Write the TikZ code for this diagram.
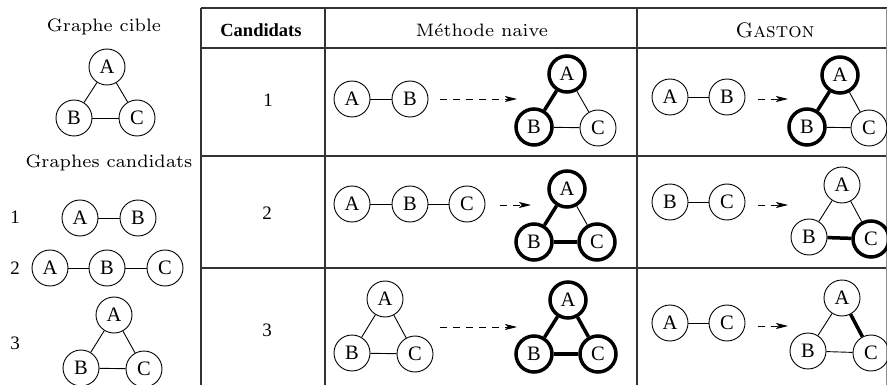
\documentclass[tikz,border=0pt]{standalone}
\usepackage{fontspec}
\setmainfont{Liberation Serif}
\usetikzlibrary{arrows.meta}
% Computer Modern faces for the captions and column titles
\font\lblfont=cmr7 at 18pt
\font\lblsc=cmcsc10 at 21pt
\tikzset{
  vtx/.style={circle, draw, line width=0.9pt, minimum size=36pt, inner sep=0pt,
              font=\fontsize{20.5}{22}\selectfont},
  hot/.style={line width=3.5pt},
  edge/.style={line width=0.9pt},
  hotedge/.style={line width=3.5pt},
  grid/.style={line width=1.3pt, draw=black!80},
  flow/.style={line width=0.9pt, dash pattern=on 7pt off 6pt,
               -{Stealth[length=12pt, width=6pt, inset=3pt]}},
  caption/.style={font=\lblfont, inner sep=0pt},
  num/.style={font=\fontsize{19}{21}\selectfont, inner sep=0pt},
}
\begin{document}
\begin{tikzpicture}[x=1pt, y=-1pt]
\useasboundingbox (0,0) rectangle (887,385);

% ---------- table frame ----------
\draw[grid] (201,8) -- (887,8);
\draw[grid] (201,48) -- (887,48);
\draw[grid] (201,156) -- (887,156);
\draw[grid] (201,268) -- (887,268);
\draw[grid] (201,8) -- (201,385);
\draw[grid] (325,8) -- (325,385);
\draw[grid] (637,8) -- (637,385);
\draw[grid, line width=0.8pt, draw=black!45] (886.6,8) -- (886.6,385);

% ---------- headers ----------
\node[font=\bfseries\fontsize{18.5}{20}\selectfont, inner sep=0pt] (hCand) at (261,30) {Candidats};
\node[caption] (hNaive) at (482,30) {M\accent19 ethode naive};
\node[font=\lblsc, inner sep=0pt] (hGaston) at (775,30) {Gaston};

% ---------- left column: target graph ----------
\node[caption] (tTitle) at (104,27) {Graphe cible};
\node[vtx] (tA) at (107,67) {A};
\node[vtx] (tB) at (74,118) {B};
\node[vtx] (tC) at (137,118) {C};
\draw[edge] (tA) -- (tB);
\draw[edge] (tA) -- (tC);
\draw[edge] (tB) -- (tC);

% ---------- left column: candidate graphs ----------
\node[caption] (cTitle) at (109,163) {Graphes candidats};

\node[num] (l1) at (15,217) {1};
\node[vtx] (c1A) at (80,218) {A};
\node[vtx] (c1B) at (138,218) {B};
\draw[edge] (c1A) -- (c1B);

\node[num] (l2) at (15,268) {2};
\node[vtx] (c2A) at (50,268) {A};
\node[vtx] (c2B) at (107,268) {B};
\node[vtx] (c2C) at (165,268) {C};
\draw[edge] (c2A) -- (c2B);
\draw[edge] (c2B) -- (c2C);

\node[num] (l3) at (15,343) {3};
\node[vtx] (c3A) at (114,315) {A};
\node[vtx] (c3B) at (81,368) {B};
\node[vtx] (c3C) at (144,369) {C};
\draw[edge] (c3A) -- (c3B);
\draw[edge] (c3A) -- (c3C);
\draw[edge] (c3B) -- (c3C);

% ---------- row 1 ----------
\node[num] (r1) at (268,100) {1};
% naive method
\node[vtx] (n1sA) at (352,99) {A};
\node[vtx] (n1sB) at (410,99) {B};
\draw[edge] (n1sA) -- (n1sB);
\coordinate (n1from) at (440,99);
\coordinate (n1to) at (517,99);
\draw[flow] (n1from) -- (n1to);
\node[vtx, hot] (n1A) at (567,74) {A};
\node[vtx, hot] (n1B) at (534,127) {B};
\node[vtx] (n1C) at (598,128) {C};
\draw[hotedge] (n1A) -- (n1B);
\draw[edge] (n1A) -- (n1C);
\draw[edge] (n1B) -- (n1C);
% Gaston
\node[vtx] (g1sA) at (670,97) {A};
\node[vtx] (g1sB) at (727,97) {B};
\draw[edge] (g1sA) -- (g1sB);
\coordinate (g1from) at (758,99);
\coordinate (g1to) at (788,99);
\draw[flow] (g1from) -- (g1to);
\node[vtx, hot] (g1A) at (840,75) {A};
\node[vtx, hot] (g1B) at (807,127) {B};
\node[vtx] (g1C) at (869,128) {C};
\draw[hotedge] (g1A) -- (g1B);
\draw[edge] (g1A) -- (g1C);
\draw[edge] (g1B) -- (g1C);

% ---------- row 2 ----------
\node[num] (r2) at (267,213) {2};
% naive method
\node[vtx] (n2sA) at (352,204) {A};
\node[vtx] (n2sB) at (410,204) {B};
\node[vtx] (n2sC) at (467,204) {C};
\draw[edge] (n2sA) -- (n2sB);
\draw[edge] (n2sB) -- (n2sC);
\coordinate (n2from) at (500,205);
\coordinate (n2to) at (531,205);
\draw[flow] (n2from) -- (n2to);
\node[vtx, hot] (n2A) at (567,189) {A};
\node[vtx, hot] (n2B) at (534,242) {B};
\node[vtx, hot] (n2C) at (597,242) {C};
\draw[hotedge] (n2A) -- (n2B);
\draw[edge] (n2A) -- (n2C);
\draw[hotedge] (n2B) -- (n2C);
% Gaston
\node[vtx] (g2sB) at (670,202) {B};
\node[vtx] (g2sC) at (727,202) {C};
\draw[edge] (g2sB) -- (g2sC);
\coordinate (g2from) at (758,205);
\coordinate (g2to) at (788,205);
\draw[flow] (g2from) -- (g2to);
\node[vtx] (g2A) at (842,185) {A};
\node[vtx] (g2B) at (809,237) {B};
\node[vtx, hot] (g2C) at (871,239) {C};
\draw[edge] (g2A) -- (g2B);
\draw[edge] (g2A) -- (g2C);
\draw[hotedge] (g2B) -- (g2C);

% ---------- row 3 ----------
\node[num] (r3) at (267,330) {3};
% naive method
\node[vtx] (n3sA) at (385,299) {A};
\node[vtx] (n3sB) at (352,353) {B};
\node[vtx] (n3sC) at (415,354) {C};
\draw[edge] (n3sA) -- (n3sB);
\draw[edge] (n3sA) -- (n3sC);
\draw[edge] (n3sB) -- (n3sC);
\coordinate (n3from) at (440,327);
\coordinate (n3to) at (517,327);
\draw[flow] (n3from) -- (n3to);
\node[vtx, hot] (n3A) at (568,300) {A};
\node[vtx, hot] (n3B) at (534,354) {B};
\node[vtx, hot] (n3C) at (598,354) {C};
\draw[hotedge] (n3A) -- (n3B);
\draw[hotedge] (n3A) -- (n3C);
\draw[hotedge] (n3B) -- (n3C);
% Gaston
\node[vtx] (g3sA) at (670,323) {A};
\node[vtx] (g3sC) at (727,323) {C};
\draw[edge] (g3sA) -- (g3sC);
\coordinate (g3from) at (758,326);
\coordinate (g3to) at (788,326);
\draw[flow] (g3from) -- (g3to);
\node[vtx] (g3A) at (842,298) {A};
\node[vtx] (g3B) at (808,351) {B};
\node[vtx] (g3C) at (871,353) {C};
\draw[edge] (g3A) -- (g3B);
\draw[hotedge] (g3A) -- (g3C);
\draw[edge] (g3B) -- (g3C);
\end{tikzpicture}
\end{document}
